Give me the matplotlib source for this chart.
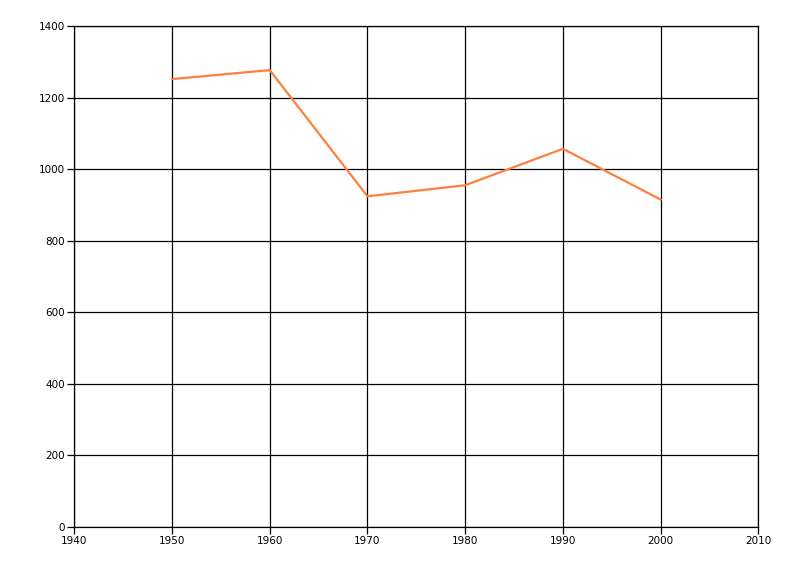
import matplotlib
matplotlib.use("Agg")
import matplotlib.pyplot as plt

years = [1950, 1960, 1970, 1980, 1990, 2000]
values = [1252, 1277, 924, 955, 1057, 915]

x_ticks = [1940, 1950, 1960, 1970, 1980, 1990, 2000, 2010]
y_ticks = [0, 200, 400, 600, 800, 1000, 1200, 1400]

fig = plt.figure(figsize=(8, 5.76), dpi=100)
ax = fig.add_axes([0.0929, 0.0856, 0.855, 0.869])

ax.plot(years, values, color="#FF7F3F", linewidth=1.6, zorder=3)

ax.set_xlim(1940, 2010)
ax.set_ylim(0, 1400)
ax.set_xticks(x_ticks)
ax.set_yticks(y_ticks)
ax.grid(True, color="black", linewidth=0.9)

for s in ax.spines.values():
    s.set_color("black")
    s.set_linewidth(0.9)

ax.tick_params(direction="out", length=5, width=0.9, labelsize=7.5, pad=2)

fig.savefig("out.png", dpi=100)
